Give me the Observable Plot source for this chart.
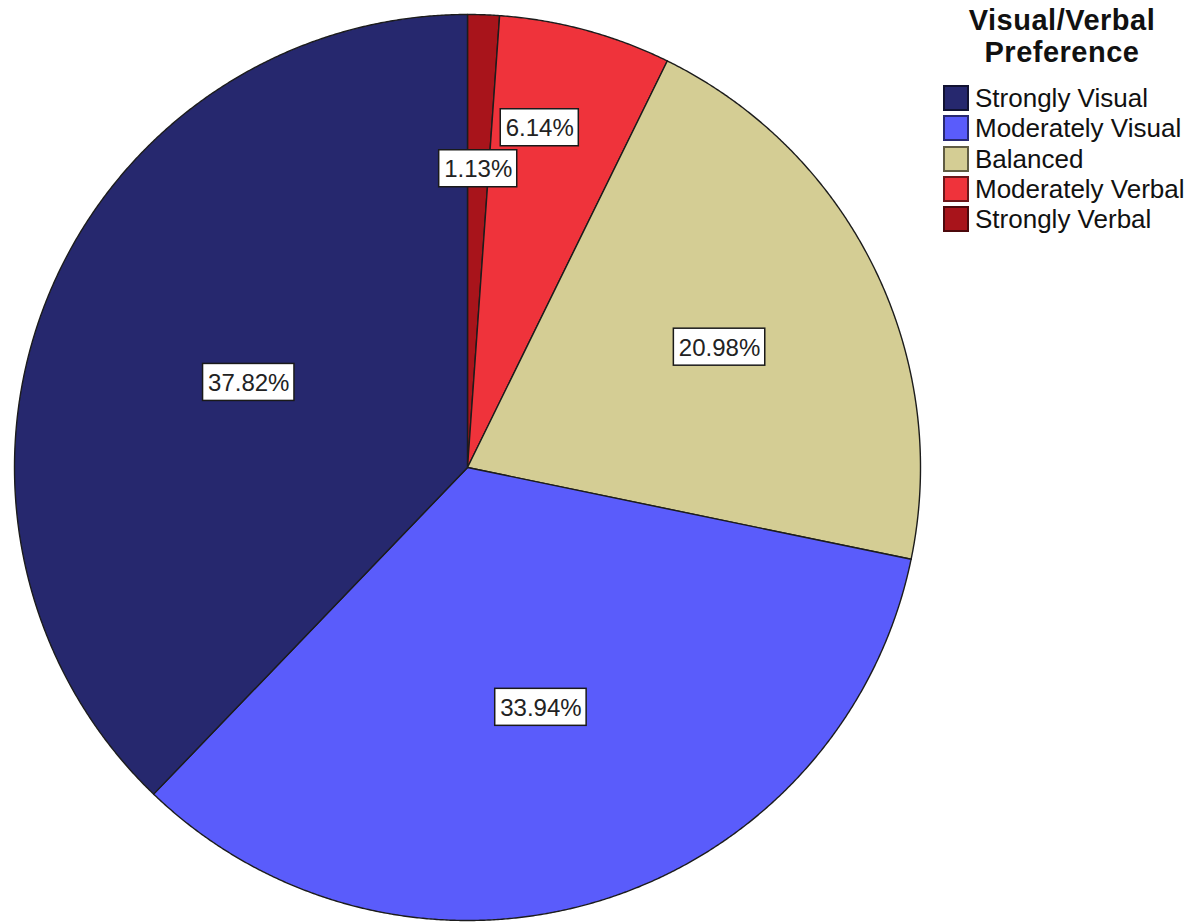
<!DOCTYPE html>
<html>
<head>
<meta charset="utf-8">
<script src="https://cdn.jsdelivr.net/npm/d3@7"></script>
<script src="https://cdn.jsdelivr.net/npm/@observablehq/plot@0.6"></script>
<style>
  html, body { margin: 0; padding: 0; background: #fff; }
  #wrap { position: relative; width: 1192px; height: 922px; overflow: hidden; font-family: "Liberation Sans", Arial, sans-serif; }
  #legend { position: absolute; left: 930px; top: 0; width: 262px; color: #111; }
  #legend .title { position: absolute; left: 0; width: 264px; top: 4px; text-align: center; font-weight: bold; font-size: 29px; line-height: 32px; letter-spacing: 0.5px; }
  #legend .row { position: absolute; left: 13px; height: 26px; display: flex; align-items: center; white-space: nowrap; }
  #legend .sw { width: 22px; height: 22px; border: 2px solid rgba(0,0,0,0.55); margin-right: 6px; }
  #legend .lab { font-size: 26px; line-height: 26px; }
</style>
</head>
<body>
<div id="wrap"></div>
<script>
// ---- data ----
const categories = ["Strongly Visual", "Moderately Visual", "Balanced", "Moderately Verbal", "Strongly Verbal"];
const percents = [37.82, 33.94, 20.98, 6.14, 1.13];
const colors = ["#26286e", "#5a5cfb", "#d4cd94", "#ef333b", "#a8141b"];
const legendTitle = ["Visual/Verbal", "Preference"];

// ---- layout ----
const W = 1192, H = 922;
const mL = 14, mR = 272, mT = 14, mB = 2;
const pxPerUnit = (W - mL - mR) / 2;

// slices drawn clockwise from 12 o'clock, starting with the last category
const order = categories.map((c, i) => i).reverse();
const total = d3.sum(percents);
let acc = 0;
const slices = order.map(i => {
  const a0 = acc / total * 2 * Math.PI;
  acc += percents[i];
  const a1 = acc / total * 2 * Math.PI;
  return {cat: categories[i], pct: percents[i], a0, a1};
});

// polygon points for each slice
const pts = [];
for (const s of slices) {
  pts.push({cat: s.cat, x: 0, y: 0});
  const n = Math.max(2, Math.ceil((s.a1 - s.a0) / (Math.PI / 720)));
  for (let k = 0; k <= n; k++) {
    const a = s.a0 + (s.a1 - s.a0) * k / n;
    pts.push({cat: s.cat, x: Math.sin(a), y: Math.cos(a)});
  }
}

// labels at sector centroids, with simple vertical dodge
const ctx = document.createElement("canvas").getContext("2d");
const labelFont = "24px 'Liberation Sans', Arial, sans-serif";
ctx.font = labelFont;
const boxH = 37, padX = 5;
const labels = [];
for (const s of slices) {
  const alpha = s.a1 - s.a0;
  const mid = (s.a0 + s.a1) / 2;
  const dist = 4 * Math.sin(alpha / 2) / (3 * alpha);
  const text = s.pct.toFixed(2) + "%";
  const w = ctx.measureText(text).width + 2 * padX;
  let lx = dist * Math.sin(mid), ly = dist * Math.cos(mid) - 3 / pxPerUnit;
  const hw = w / 2 / pxPerUnit, hh = boxH / 2 / pxPerUnit;
  for (const o of labels) {
    if (Math.abs(o.x - lx) < o.hw + hw && Math.abs(o.y - ly) < o.hh + hh) {
      ly = o.y + o.hh + hh + 4 / pxPerUnit;
      lx = lx - 6 / pxPerUnit;
    }
  }
  labels.push({text, x: lx, y: ly, hw, hh});
}

const plot = Plot.plot({
  width: W, height: H,
  marginLeft: mL, marginRight: mR, marginTop: mT, marginBottom: mB,
  x: {domain: [-1, 1], axis: null},
  y: {domain: [-1, 1], axis: null},
  color: {domain: categories, range: colors},
  marks: [
    Plot.line(pts, {x: "x", y: "y", z: "cat", fill: "cat", stroke: "#1c1c1c", strokeWidth: 1.4, curve: "linear-closed", strokeLinejoin: "round"}),
    Plot.rect(labels, {x1: d => d.x - d.hw, x2: d => d.x + d.hw, y1: d => d.y - d.hh, y2: d => d.y + d.hh, fill: "white", stroke: "#1a1a1a", strokeWidth: 1.5}),
    Plot.text(labels, {x: "x", y: "y", text: "text", fontSize: 24, fill: "#222", fontFamily: "'Liberation Sans', Arial, sans-serif", dy: 1})
  ]
});

const wrap = document.getElementById("wrap");
wrap.appendChild(plot);

// legend (HTML, placed over the right-hand margin)
const leg = document.createElement("div");
leg.id = "legend";
const t = document.createElement("div");
t.className = "title";
t.innerHTML = legendTitle.join("<br>");
leg.appendChild(t);
categories.forEach((c, i) => {
  const r = document.createElement("div");
  r.className = "row";
  r.style.top = (85 + i * 30.3) + "px";
  const sw = document.createElement("div");
  sw.className = "sw";
  sw.style.background = colors[i];
  const lab = document.createElement("span");
  lab.className = "lab";
  lab.textContent = c;
  r.appendChild(sw); r.appendChild(lab);
  leg.appendChild(r);
});
wrap.appendChild(leg);
</script>
</body>
</html>
